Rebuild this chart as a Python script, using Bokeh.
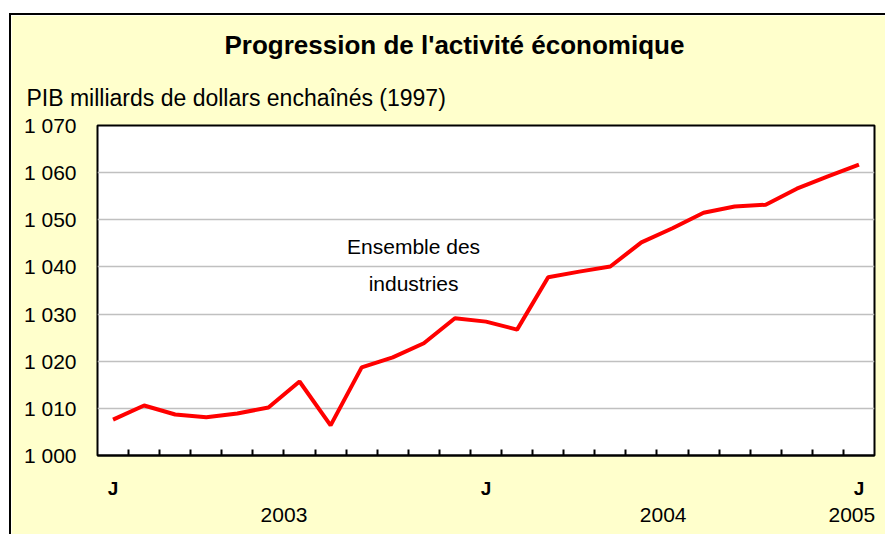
from bokeh.plotting import figure
from bokeh.models import FixedTicker, Range1d, Title, LinearAxis
from bokeh.core.properties import value
from bokeh.embed import file_html
from bokeh.resources import INLINE

# ---- data ----
gdp = [1007.6, 1010.6, 1008.7, 1008.1, 1008.9, 1010.2, 1015.7, 1006.4,
       1018.7, 1020.8, 1023.8, 1029.1, 1028.4, 1026.7, 1037.8, 1039.0,
       1040.1, 1045.2, 1048.2, 1051.5, 1052.8, 1053.2, 1056.6, 1059.2, 1061.7]
month_idx = list(range(len(gdp)))
y_ticks = [1000, 1010, 1020, 1030, 1040, 1050, 1060, 1070]
y_tick_labels = ["1 000", "1 010", "1 020", "1 030", "1 040", "1 050", "1 060", "1 070"]
month_label_pos = [0, 12, 24]
month_labels = ["J", "J", "J"]
year_pos = [5.5, 17.7, 23.77]
year_labels = ["2003", "2004", "2005"]
series_name = "Ensemble des\nindustries"
title_text = "Progression de l'activité économique"
subtitle_text = "PIB milliards de dollars enchaînés (1997)"

FONT = "Liberation Sans"
BG = "#FFFFCC"

p = figure(width=876, height=521, output_backend="svg", toolbar_location=None,
           x_range=Range1d(-0.5, len(gdp) - 0.5), y_range=Range1d(1000, 1070),
           min_border_left=86, min_border_right=13, min_border_top=110, min_border_bottom=81,
           background_fill_color="white", border_fill_color=BG,
           styles={"margin-left": "9px", "margin-top": "13px",
                   "border-left": "2px solid black", "border-top": "2px solid black"})

p.outline_line_color = "black"
p.outline_line_width = 2

# titles
sub = Title(text=subtitle_text, align="left", offset=-71, standoff=29,
            text_font=FONT, text_font_size="23px", text_font_style="normal", text_color="black")
p.add_layout(sub, "above")
ttl = Title(text=title_text, align="left", offset=127, standoff=18,
            text_font=FONT, text_font_size="26px", text_font_style="bold", text_color="black")
p.add_layout(ttl, "above")

# grid
p.xgrid.visible = False
p.ygrid.ticker = FixedTicker(ticks=y_ticks)
p.ygrid.grid_line_color = "#C0C0C0"
p.ygrid.grid_line_width = 1.5

# y axis
ya = p.yaxis[0]
ya.ticker = FixedTicker(ticks=y_ticks)
ya.major_label_overrides = {t: l for t, l in zip(y_ticks, y_tick_labels)}
ya.major_tick_in = 0
ya.major_tick_out = 0
ya.minor_tick_line_color = None
ya.axis_line_color = None
ya.major_label_standoff = 21
ya.major_label_text_font = FONT
ya.major_label_text_font_size = "21px"
ya.major_label_text_color = "black"

# x axis (month ticks)
xa = p.xaxis[0]
xa.ticker = FixedTicker(ticks=month_label_pos, minor_ticks=[i + 0.5 for i in month_idx[:-1]])
xa.major_label_overrides = {t: l for t, l in zip(month_label_pos, month_labels)}
xa.major_tick_in = 0
xa.major_tick_out = 0
xa.minor_tick_in = 6
xa.minor_tick_out = 0
xa.minor_tick_line_color = "black"
xa.minor_tick_line_width = 2
xa.axis_line_color = "black"
xa.axis_line_width = 2
xa.major_label_standoff = 22
xa.major_label_text_font = FONT
xa.major_label_text_font_size = "19px"
xa.major_label_text_font_style = "bold"
xa.major_label_text_color = "black"

# year axis
yr = LinearAxis(ticker=FixedTicker(ticks=year_pos),
                major_label_overrides={t: l for t, l in zip(year_pos, year_labels)},
                axis_line_color=None, major_tick_line_color=None, minor_tick_line_color=None,
                major_label_standoff=0, major_label_text_font=FONT,
                major_label_text_font_size="21px", major_label_text_color="black")
p.add_layout(yr, "below")

# line
p.line(month_idx, gdp, line_color="#FF0000", line_width=4)

# series annotation
p.text(x=[9.67], y=[1040.4], text=[series_name], text_font=value(FONT),
       text_font_size="21px", text_align="center", text_baseline="middle",
       text_line_height=1.62, text_color="black")

open("out.html", "w").write(file_html(p, INLINE))
